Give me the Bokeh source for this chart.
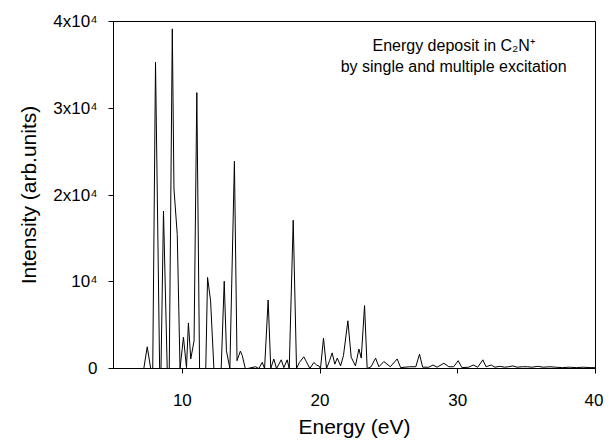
from bokeh.plotting import figure
from bokeh.models import FixedTicker, Label
from bokeh.embed import file_html
from bokeh.resources import INLINE

energy = [5.0, 7.2, 7.45, 7.7, 7.85, 8.05, 8.35, 8.45, 8.63, 8.9, 9.05, 9.27, 9.39, 9.63, 9.83,
          10.08, 10.3, 10.44, 10.61, 10.85, 11.05, 11.25, 11.7, 11.83, 12.05, 12.29, 12.82,
          13.04, 13.2, 13.45, 13.78, 13.97, 14.21, 14.35, 14.57, 14.75, 15.31, 15.55, 15.8,
          15.97, 16.23, 16.42, 16.64, 16.84, 17.18, 17.37, 17.61, 17.76, 18.05, 18.29, 18.5,
          18.82, 19.0, 19.26, 19.55, 19.74, 19.91, 20.03, 20.25, 20.47, 20.69, 20.88, 21.07,
          21.25, 21.49, 21.7, 22.02, 22.26, 22.57, 22.82, 22.99, 23.23, 23.42, 23.7, 24.03,
          24.27, 24.63, 25.1, 25.6, 25.85, 26.5, 26.95, 27.22, 27.45, 27.9, 28.2, 28.5, 28.99,
          29.35, 29.7, 30.03, 30.3, 30.8, 31.12, 31.45, 31.82, 32.05, 32.43, 32.7, 33.05, 33.4,
          33.7, 34.0, 34.3, 34.7, 35.05, 35.4, 35.8, 36.2, 36.7, 37.1, 37.6, 38.1, 38.6, 39.1,
          39.6, 40.0]
intensity = [0, 0, 2500, 0, 0, 35300, 0, 0, 18150, 0, 0, 39150, 20700, 15450, 0,
             3600, 100, 5250, 1100, 3200, 31800, 0, 0, 10500, 7800, 0, 0,
             10060, 2050, 0, 23900, 900, 2000, 1500, 0, 0, 200, 0, 700,
             0, 7900, 0, 1100, 0, 1000, 100, 1000, 0, 17100, 0, 700,
             1350, 800, 0, 700, 400, 300, 0, 3500, 0, 900, 1800, 500,
             1200, 300, 1500, 5500, 1300, 300, 2250, 1200, 7250, 0, 200, 1200,
             200, 800, 200, 1100, 100, 200, 200, 1650, 150, 150, 400, 150, 600,
             200, 200, 900, 100, 150, 400, 150, 1000, 200, 400, 150, 250, 150,
             200, 300, 150, 200, 200, 150, 250, 150, 200, 150, 100, 150, 100, 150,
             100, 100]

y_ticks = [0, 10000, 20000, 30000, 40000]
y_tick_labels = ["0", "10\u2074", "2x10\u2074", "3x10\u2074", "4x10\u2074"]
x_ticks = [10, 20, 30, 40]

FONT = "Liberation Sans"

p = figure(width=603, height=440, x_range=(5, 40), y_range=(0, 40000),
           output_backend="svg", toolbar_location=None,
           min_border_left=113, min_border_right=8, min_border_top=21, min_border_bottom=72)

p.line(energy, intensity, line_color="black", line_width=1)

p.xgrid.visible = False
p.ygrid.visible = False
p.outline_line_color = "black"
p.outline_line_width = 1

p.xaxis.ticker = FixedTicker(ticks=x_ticks)
p.yaxis.ticker = FixedTicker(ticks=y_ticks)
p.yaxis.major_label_overrides = {t: l for t, l in zip(y_ticks, y_tick_labels)}

for ax in (p.xaxis, p.yaxis):
    ax.minor_tick_line_color = None
    ax.major_tick_in = 0
    ax.major_tick_out = 5
    ax.axis_line_color = "black"
    ax.major_tick_line_color = "black"
    ax.major_label_text_font = FONT
    ax.major_label_text_font_size = "17px"
    ax.major_label_text_color = "black"
    ax.axis_label_text_font = FONT
    ax.axis_label_text_font_size = "21px"
    ax.axis_label_text_font_style = "normal"
    ax.axis_label_text_color = "black"

p.xaxis.axis_label = "Energy (eV)"
p.yaxis.axis_label = "Intensity (arb.units)"
p.xaxis.major_label_standoff = 20
p.yaxis.major_label_standoff = 11
p.xaxis.axis_label_standoff = 6
p.yaxis.axis_label_standoff = 10

p.add_layout(Label(x=29.7, y=37190, text="Energy deposit in C\u2082N\u207a",
                   text_align="center", text_baseline="middle",
                   text_font=FONT, text_font_size="16px", text_color="black"))
p.add_layout(Label(x=29.7, y=34760, text="by single and multiple excitation",
                   text_align="center", text_baseline="middle",
                   text_font=FONT, text_font_size="16px", text_color="black"))

open("out.html", "w").write(file_html(p, INLINE))
